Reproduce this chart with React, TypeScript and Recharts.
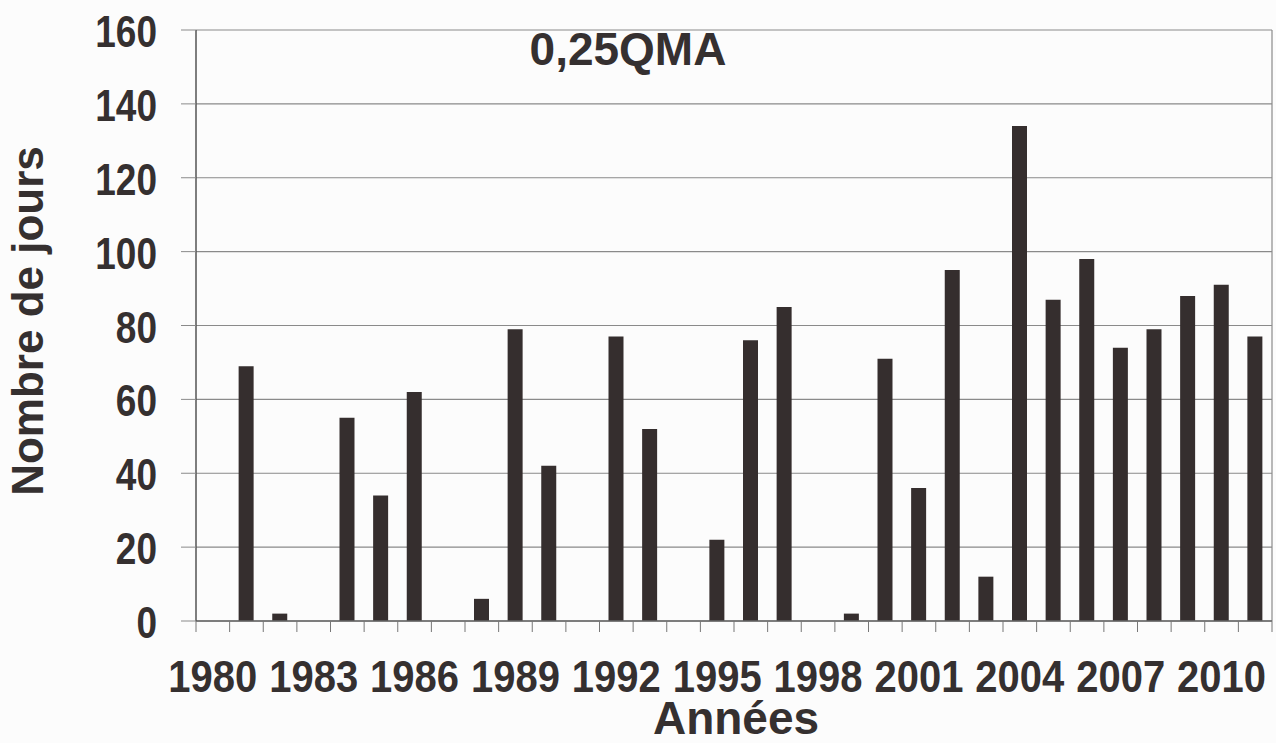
import React from "react";
import { BarChart, Bar, XAxis, YAxis, CartesianGrid } from "recharts";

// Nombre de jours sous 0,25QMA par année
const years = [
  "1980", "1981", "1982", "1983", "1984", "1985", "1986", "1987",
  "1988", "1989", "1990", "1991", "1992", "1993", "1994", "1995",
  "1996", "1997", "1998", "1999", "2000", "2001", "2002", "2003",
  "2004", "2005", "2006", "2007", "2008", "2009", "2010", "2011",
];
const jours = [
  0, 69, 2, 0, 55, 34, 62, 0,
  6, 79, 42, 0, 77, 52, 0, 22,
  76, 85, 0, 2, 71, 36, 95, 12,
  134, 87, 98, 74, 79, 88, 91, 77,
];
const yTicks = [0, 20, 40, 60, 80, 100, 120, 140, 160];

const data = years.map((year, i) => ({ year, jours: jours[i] }));

const W = 1276;
const H = 743;
const AXIS_W = 196;
const RIGHT = 4;
const TOP = 30;
const X_AXIS_H = 122;
const PLOT_RIGHT = W - RIGHT;
const PLOT_BOTTOM = H - X_AXIS_H;
const PLOT_W = W - AXIS_W - RIGHT;
const BAND = PLOT_W / years.length;

const FONT = '"Liberation Sans", Arial, sans-serif';
const INK = "#353030";

// labels every third year, tick marks between every category
function YearTick(props: any) {
  const { x, index, payload } = props;
  const left = x - BAND / 2;
  const right = x + BAND / 2;
  return (
    <g>
      <line x1={left} x2={left} y1={PLOT_BOTTOM} y2={PLOT_BOTTOM + 11} stroke="#777" />
      {index === years.length - 1 && (
        <line x1={right} x2={right} y1={PLOT_BOTTOM} y2={PLOT_BOTTOM + 11} stroke="#777" />
      )}
      {index % 3 === 0 && (
        <text
          transform={`translate(${x}, ${PLOT_BOTTOM + 71}) scale(1, 1.12)`}
          textAnchor="middle"
          fontSize={40}
          fontWeight="bold"
          fontFamily={FONT}
          fill={INK}
        >
          {payload.value}
        </text>
      )}
    </g>
  );
}

function ValueTick(props: any) {
  const { x, y, payload } = props;
  return (
    <text
      transform={`translate(${x}, ${y + 17}) scale(1, 1.22)`}
      textAnchor="end"
      fontSize={37}
      fontWeight="bold"
      fontFamily={FONT}
      fill={INK}
    >
      {payload.value}
    </text>
  );
}

export default function App() {
  return (
    <div
      style={{
        position: "absolute",
        left: 0,
        top: 0,
        width: W,
        height: H,
        background: "#fcfcfc",
        fontFamily: FONT,
      }}
    >
      <div
        style={{
          position: "absolute",
          left: 428,
          top: 26,
          width: 400,
          textAlign: "center",
          fontSize: 46,
          lineHeight: "46px",
          fontWeight: "bold",
          color: INK,
        }}
      >
        0,25QMA
      </div>
      <BarChart
        width={W}
        height={H}
        data={data}
        margin={{ top: TOP, right: RIGHT, bottom: 0, left: 0 }}
        barCategoryGap={0}
      >
        <CartesianGrid
          vertical={true}
          verticalPoints={[PLOT_RIGHT]}
          stroke="#8a8a8a"
          strokeWidth={1.2}
        />
        <XAxis
          dataKey="year"
          interval={0}
          height={X_AXIS_H}
          tickLine={false}
          axisLine={{ stroke: "#666", strokeWidth: 1.5 }}
          tick={<YearTick />}
          label={{
            content: () => (
              <text
                x={AXIS_W + PLOT_W / 2 + 2}
                y={734}
                textAnchor="middle"
                fontSize={46}
                fontWeight="bold"
                fontFamily={FONT}
                fill={INK}
              >
                Années
              </text>
            ),
          }}
        />
        <YAxis
          domain={[0, 160]}
          ticks={yTicks}
          interval={0}
          width={AXIS_W}
          tickSize={15}
          tickMargin={24}
          tickLine={{ stroke: "#8a8a8a" }}
          axisLine={{ stroke: "#555", strokeWidth: 1.5 }}
          tick={<ValueTick />}
          label={{
            content: () => (
              <text
                transform="translate(43, 321) rotate(-90)"
                textAnchor="middle"
                fontSize={44}
                fontWeight="bold"
                fontFamily={FONT}
                fill={INK}
              >
                Nombre de jours
              </text>
            ),
          }}
        />
        <Bar dataKey="jours" fill="#352e2e" barSize={15} isAnimationActive={false} />
      </BarChart>
    </div>
  );
}
